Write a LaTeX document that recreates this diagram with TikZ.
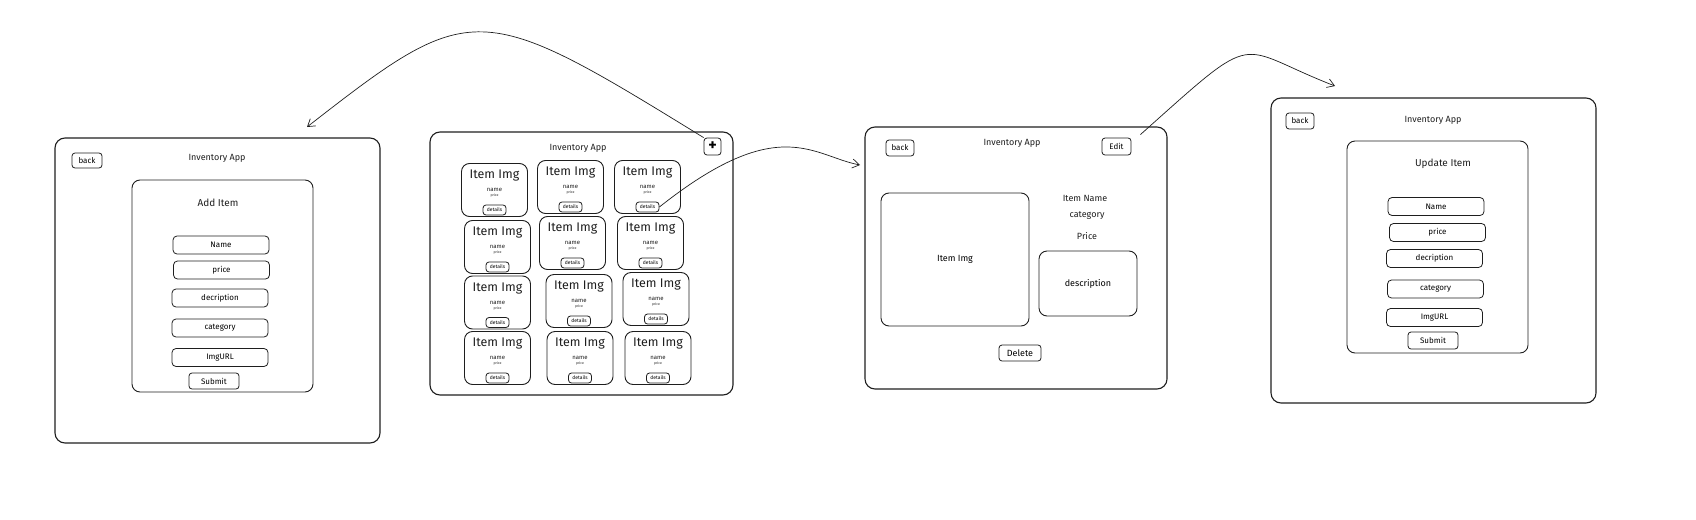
\documentclass[tikz,border=0pt]{standalone}
\usepackage{fontspec}
\setmainfont{Fira Sans}
\usetikzlibrary{arrows.meta}
\definecolor{ink}{HTML}{1E1E1E}

\begin{document}
\begin{tikzpicture}[x=1pt,y=-1pt,
  screen/.style={draw=ink,line width=1.1pt,rounded corners=10pt,inner sep=0pt},
  panel/.style={draw=ink,line width=0.9pt,rounded corners=8pt,inner sep=0pt,font=\fontsize{9}{10}\selectfont},
  field/.style={draw=ink,line width=0.8pt,rounded corners=4pt,minimum width=96pt,minimum height=18pt,inner sep=0pt,font=\fontsize{8}{9}\selectfont},
  btn/.style={draw=ink,line width=0.8pt,rounded corners=3pt,inner sep=0pt,font=\fontsize{8}{9}\selectfont},
  card/.style={draw=ink,line width=0.9pt,rounded corners=8pt,minimum width=66pt,minimum height=53pt,inner sep=0pt},
  caption/.style={text=ink,inner sep=0pt,font=\fontsize{9}{10}\selectfont},
  link/.style={draw=ink,line width=0.7pt,-{Straight Barb[length=7pt,width=9pt]}}]
\useasboundingbox (0,0) rectangle (1696,519);
% add item screen
\node[screen,minimum width=325pt,minimum height=305pt] (addscr) at (217.5,290.5) {};
\node[btn,minimum width=30pt,minimum height=15pt] (addback) at (87,160.5) {back};
\node[caption] (addtitle) at (217,158) {Inventory App};
\node[panel,minimum width=181pt,minimum height=212pt] (addform) at (222.5,286) {};
\node[caption,font=\fontsize{10}{11}\selectfont] (addhead) at (218,203) {Add Item};
\foreach \lbl/\cx/\cy [count=\k] in {Name/221/245,price/221.5/270,decription/220/298,category/220/328,ImgURL/220/357.5}
  \node[field] (addf\k) at (\cx,\cy) {\lbl};
\node[btn,minimum width=50pt,minimum height=16pt] (addsubmit) at (214,381) {Submit};
% list screen
\node[screen,minimum width=303pt,minimum height=263pt] (listscr) at (581.5,263.5) {};
\node[caption] (listtitle) at (578,148) {Inventory App};
\node[btn,minimum width=17pt,minimum height=17pt,font=\bfseries\fontsize{16}{16}\selectfont] (plus) at (712.5,146.5) {+};
\foreach \cx/\cy [count=\k] in {494.5/190,570.5/187,647.5/187,497.5/247,572.5/243,650.5/243,497.5/302.5,579/301,656/299,497.5/358,580/358,658/358} {
  \node[card] (card\k) at (\cx,\cy) {};
  \node[caption,font=\fontsize{12.5}{13}\selectfont] (img\k) at (\cx,\cy-14) {Item Img};
  \node[caption,font=\fontsize{6}{6}\selectfont] (name\k) at (\cx,\cy) {name};
  \node[caption,font=\fontsize{3.5}{4}\selectfont] (price\k) at (\cx,\cy+6) {price};
  \node[btn,minimum width=23pt,minimum height=10pt,font=\fontsize{5}{5}\selectfont] (det\k) at (\cx,\cy+20) {details};
}
% detail screen
\node[screen,minimum width=302pt,minimum height=262pt] (showscr) at (1016,258) {};
\node[btn,minimum width=28pt,minimum height=16pt] (showback) at (900,148) {back};
\node[caption] (showtitle) at (1012,143) {Inventory App};
\node[btn,minimum width=29pt,minimum height=17pt] (edit) at (1116.5,146.5) {Edit};
\node[panel,minimum width=148pt,minimum height=133pt] (showimg) at (955,259.5) {Item Img};
\node[caption] (showname) at (1085,198) {Item Name};
\node[caption] (showcat) at (1087,216) {category};
\node[caption] (showprice) at (1087,236) {Price};
\node[panel,minimum width=98pt,minimum height=65pt] (showdesc) at (1088,283.5) {description};
\node[btn,minimum width=42pt,minimum height=16pt,font=\fontsize{9}{10}\selectfont] (delete) at (1020,353) {Delete};
% update item screen
\node[screen,minimum width=325pt,minimum height=305pt] (editscr) at (1433.5,250.5) {};
\node[btn,minimum width=28pt,minimum height=16pt] (editback) at (1300,121) {back};
\node[caption] (edittitle) at (1433,120) {Inventory App};
\node[panel,minimum width=181pt,minimum height=212pt] (editform) at (1437.5,247) {};
\node[caption,font=\fontsize{10}{11}\selectfont] (edithead) at (1443,164) {Update Item};
\foreach \lbl/\cx/\cy [count=\k] in {Name/1436/206.5,price/1437.5/232.5,decription/1434.5/258.5,category/1435.5/289,ImgURL/1434.5/317.5}
  \node[field] (editf\k) at (\cx,\cy) {\lbl};
\node[btn,minimum width=50pt,minimum height=17pt] (editsubmit) at (1433,340.5) {Submit};
% flows between screens
\coordinate (addtip) at (307,127);
\coordinate (showtip) at (860,165);
\coordinate (edittip) at (1335,86);
\draw[link] (plus.north west) .. controls (478,-1.5) and (472,-1.5) .. (addtip);
\draw[link] (det3.east) .. controls (779,112) and (813,156) .. (showtip);
\draw[link] ([xshift=9pt,yshift=3pt]edit.north east) .. controls (1261.6,26.4) and (1233.4,46.6) .. (edittip);
\end{tikzpicture}
\end{document}
